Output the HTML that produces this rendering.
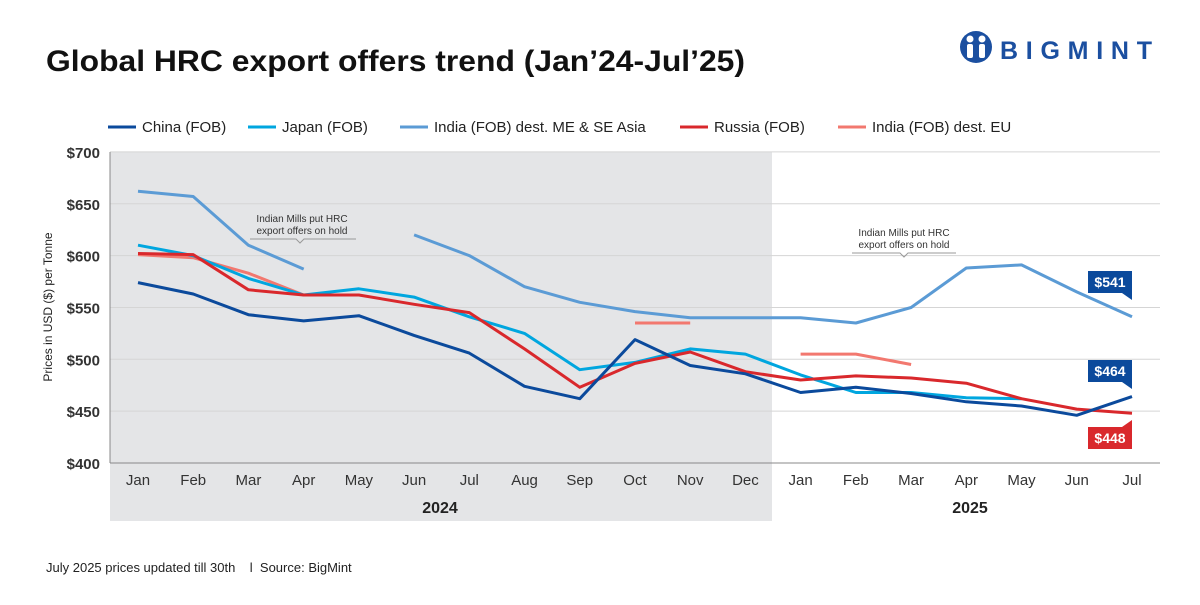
<!DOCTYPE html>
<html><head><meta charset="utf-8"><style>
body{margin:0;width:1200px;height:600px;background:#fff;font-family:"Liberation Sans",sans-serif;overflow:hidden}
</style></head><body>
<svg id="c" width="1200" height="600" xmlns="http://www.w3.org/2000/svg">
<rect x="0" y="0" width="1200" height="600" fill="#fff"/>
<text x="46" y="71" font-size="30" font-weight="bold" fill="#111" textLength="699" lengthAdjust="spacingAndGlyphs">Global HRC export offers trend (Jan’24-Jul’25)</text>
<g>
<circle cx="976" cy="47" r="16" fill="#1b4fa0"/>
<circle cx="970" cy="39" r="3.5" fill="#fff"/><circle cx="982" cy="39" r="3.5" fill="#fff"/>
<rect x="967" y="44" width="6" height="14" rx="2" fill="#fff"/><rect x="979" y="44" width="6" height="14" rx="2" fill="#fff"/>
<text x="1000" y="59" font-size="25" font-weight="bold" fill="#1b4fa0" textLength="152" lengthAdjust="spacing">BIGMINT</text>
</g>
<rect x="110" y="152" width="662" height="369" fill="#e4e5e7"/>
<g id="grid"></g><g id="lines"></g><g id="legend"></g>
<text transform="translate(52,307) rotate(-90)" text-anchor="middle" font-size="12" fill="#222">Prices in USD ($) per Tonne</text>
<text x="440" y="513" text-anchor="middle" font-size="16" font-weight="bold" fill="#222">2024</text>
<text x="970" y="513" text-anchor="middle" font-size="16" font-weight="bold" fill="#222">2025</text>
<g font-size="10" fill="#333" text-anchor="middle">
<text x="302" y="222">Indian Mills put HRC</text><text x="302" y="234">export offers on hold</text>
<path d="M250 239 H296 L300 243 L304 239 H356" stroke="#999" fill="none"/></g>
<g font-size="10" fill="#333" text-anchor="middle">
<text x="904" y="236">Indian Mills put HRC</text><text x="904" y="248">export offers on hold</text>
<path d="M852 253 H900 L904 257 L908 253 H956" stroke="#999" fill="none"/></g>
<text x="46" y="572" font-size="13" fill="#222" xml:space="preserve" style="white-space:pre">July 2025 prices updated till 30th    l  Source: BigMint</text>
</svg>
<script>
const months=["Jan","Feb","Mar","Apr","May","Jun","Jul","Aug","Sep","Oct","Nov","Dec","Jan","Feb","Mar","Apr","May","Jun","Jul"];
const yTicks=[400,450,500,550,600,650,700];
const china=[574,563,543,537,542,523,506,474,462,519,494,486,468,473,467,459,455,446,464];
const japan=[610,600,578,562,568,560,541,525,490,497,510,505,485,468,468,463,462,null,null];
const indiaME=[662,657,610,587,null,620,600,570,555,546,540,540,540,535,550,588,591,565,541];
const russia=[602,601,567,562,562,553,545,510,473,496,507,488,480,484,482,477,462,452,448];
const indiaEU=[601,598,583,562,null,null,null,null,null,535,535,null,505,505,495,null,null,null,null];
const seriesNames=["China (FOB)","Japan (FOB)","India (FOB) dest. ME & SE Asia","Russia (FOB)","India (FOB) dest. EU"];
const NS="http://www.w3.org/2000/svg";
const X=i=>138+i*55.22, Y=v=>463-(v-400)*1.037;
function mk(t,a,p){const e=document.createElementNS(NS,t);for(const k in a)e.setAttribute(k,a[k]);p.appendChild(e);return e;}
const grid=document.getElementById('grid');
yTicks.forEach(v=>{
 const l=mk('line',{x1:110,x2:1160,y1:Y(v),y2:Y(v),stroke:v==400?'#888':'#d5d5d5','stroke-width':1},grid);
 
 
 const t=mk('text',{x:100,y:Y(v)+6,'text-anchor':'end','font-size':15,'font-weight':'bold',fill:'#333'},grid);t.textContent='$'+v;
 
 
});
mk('line',{x1:110,x2:110,y1:152,y2:463,stroke:'#888'},grid);
months.forEach((m,i)=>{const t=mk('text',{x:X(i),y:485,'text-anchor':'middle','font-size':15,fill:'#333'},grid);t.textContent=m;
 
 });
const colors=["#0b4a9c","#00a6df","#5b9bd5","#d9282c","#f2786f"];
const data=[china,japan,indiaME,russia,indiaEU];
const lines=document.getElementById('lines');
const order=[2,4,1,3,0];
order.forEach(s=>{
 let d='',pen=false;
 data[s].forEach((v,i)=>{if(v==null){pen=false;return;}d+=(pen?'L':'M')+X(i).toFixed(1)+' '+Y(v).toFixed(1);pen=true;});
 const p=mk('path',{d:d,fill:'none',stroke:colors[s],'stroke-width':3,'stroke-linejoin':'round'},lines);
 
 
});
[[2,541,282,'up','#0b4a9c'],[0,464,371,'up','#0b4a9c'],[3,448,438,'down','#d9282c']].forEach(([s,v,y,dir,c])=>{
 const g=mk('g',{},lines);
 
 
 const x=1088,w=44;
 let d=dir=='up'?`M${x} ${y-11}H${x+w}V${y+18}L${x+w-10} ${y+11}H${x}Z`:`M${x} ${y-11}H${x+w-10}L${x+w} ${y-18}V${y+11}H${x}Z`;
 mk('path',{d:d,fill:c},g);
 const t=mk('text',{x:x+w/2,y:y+5,'text-anchor':'middle','font-size':14,'font-weight':'bold',fill:'#fff'},g);t.textContent='$'+v;
});
const lg=document.getElementById('legend');
const lx=[108,248,400,680,838];
seriesNames.forEach((n,i)=>{
 const g=mk('g',{},lg);
 
 
 mk('line',{x1:lx[i],x2:lx[i]+28,y1:127,y2:127,stroke:colors[i],'stroke-width':3},g);
 const t=mk('text',{x:lx[i]+34,y:132,'font-size':15,fill:'#222'},g);t.textContent=n;
});
</script>
</body></html>
